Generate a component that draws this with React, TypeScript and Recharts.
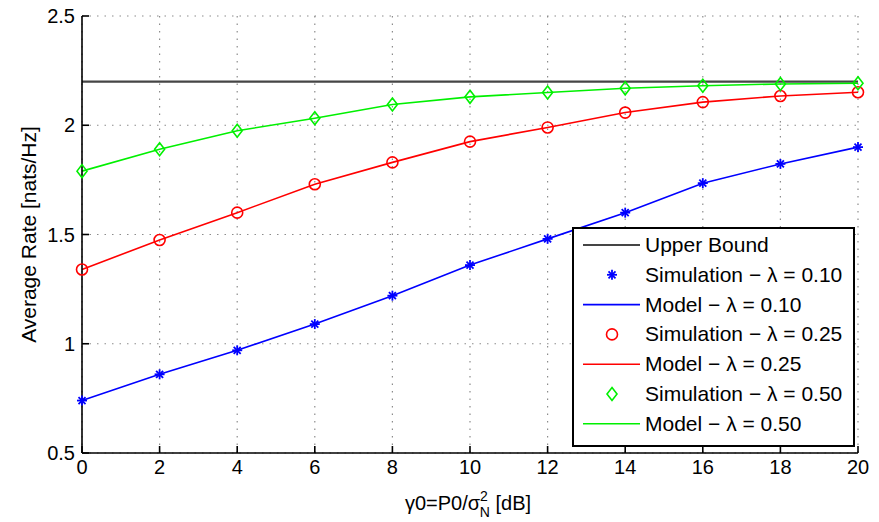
import React from 'react';
import { LineChart, Line, XAxis, YAxis, CartesianGrid, ReferenceLine, Legend } from 'recharts';

const xValues = [0, 2, 4, 6, 8, 10, 12, 14, 16, 18, 20];
const xTicks = [0, 2, 4, 6, 8, 10, 12, 14, 16, 18, 20];
const yTicks = [0.5, 1, 1.5, 2, 2.5];
const upperBound = 2.2;

const sim010 = [0.74, 0.86, 0.97, 1.09, 1.22, 1.36, 1.48, 1.6, 1.735, 1.823, 1.9];
const model010 = [0.74, 0.86, 0.97, 1.09, 1.22, 1.36, 1.48, 1.6, 1.735, 1.823, 1.9];
const sim025 = [1.34, 1.475, 1.6, 1.73, 1.83, 1.925, 1.99, 2.058, 2.106, 2.134, 2.151];
const model025 = [1.34, 1.475, 1.6, 1.73, 1.83, 1.925, 1.99, 2.058, 2.106, 2.134, 2.151];
const sim050 = [1.79, 1.89, 1.975, 2.032, 2.095, 2.13, 2.15, 2.169, 2.181, 2.189, 2.192];
const model050 = [1.79, 1.89, 1.975, 2.032, 2.095, 2.13, 2.15, 2.169, 2.181, 2.189, 2.192];

const legendLabels = [
  'Upper Bound',
  'Simulation \u2212 \u03bb = 0.10',
  'Model \u2212 \u03bb = 0.10',
  'Simulation \u2212 \u03bb = 0.25',
  'Model \u2212 \u03bb = 0.25',
  'Simulation \u2212 \u03bb = 0.50',
  'Model \u2212 \u03bb = 0.50',
];

const BLUE = '#0000ff';
const RED = '#ff0000';
const GREEN = '#00f000';
const BOUND = '#454545';
const FONT = '"Liberation Sans", Arial, Helvetica, sans-serif';

const data = xValues.map((x, i) => ({
  x,
  sim010: sim010[i],
  model010: model010[i],
  sim025: sim025[i],
  model025: model025[i],
  sim050: sim050[i],
  model050: model050[i],
}));

type MarkerKind = 'star' | 'circle' | 'diamond';

function Marker({ kind, cx, cy, color }: { kind: MarkerKind; cx: number; cy: number; color: string }) {
  if (kind === 'circle') {
    return <circle cx={cx} cy={cy} r={5.5} fill="none" stroke={color} strokeWidth={1.6} />;
  }
  if (kind === 'diamond') {
    const w = 5;
    const h = 6.5;
    return (
      <polygon
        points={`${cx},${cy - h} ${cx + w},${cy} ${cx},${cy + h} ${cx - w},${cy}`}
        fill="none"
        stroke={color}
        strokeWidth={1.6}
      />
    );
  }
  const r = 5;
  const d = r * 0.7;
  return (
    <g stroke={color} strokeWidth={1.8}>
      <line x1={cx - r} y1={cy} x2={cx + r} y2={cy} />
      <line x1={cx} y1={cy - r} x2={cx} y2={cy + r} />
      <line x1={cx - d} y1={cy - d} x2={cx + d} y2={cy + d} />
      <line x1={cx - d} y1={cy + d} x2={cx + d} y2={cy - d} />
    </g>
  );
}

const makeDot = (kind: MarkerKind, color: string) => (props: any) => {
  const { cx, cy, index } = props;
  if (cx == null || cy == null) return <g key={`e-${kind}-${index}`} />;
  return (
    <g key={`${kind}-${index}`}>
      <Marker kind={kind} cx={cx} cy={cy} color={color} />
    </g>
  );
};

const legendSpec: { label: string; type: 'line' | MarkerKind; color: string }[] = [
  { label: legendLabels[0], type: 'line', color: BOUND },
  { label: legendLabels[1], type: 'star', color: BLUE },
  { label: legendLabels[2], type: 'line', color: BLUE },
  { label: legendLabels[3], type: 'circle', color: RED },
  { label: legendLabels[4], type: 'line', color: RED },
  { label: legendLabels[5], type: 'diamond', color: GREEN },
  { label: legendLabels[6], type: 'line', color: GREEN },
];

const LegendBox = () => (
  <svg width={283} height={220} style={{ display: 'block' }}>
    <rect x={1} y={1} width={281} height={218} fill="#fff" stroke="#000" strokeWidth={2} />
    {legendSpec.map((item, i) => {
      const cy = 18 + i * 29.8;
      return (
        <g key={item.label}>
          {item.type === 'line' ? (
            <line x1={11} x2={68} y1={cy} y2={cy} stroke={item.color} strokeWidth={item.color === BOUND ? 2 : 1.6} />
          ) : (
            <Marker kind={item.type} cx={40} cy={cy} color={item.color} />
          )}
          <text x={73} y={cy + 7} fontFamily={FONT} fontSize={21} fill="#000">
            {item.label}
          </text>
        </g>
      );
    })}
  </svg>
);

const XLabel = (props: any) => {
  const vb = props.viewBox || { x: 82, y: 453, width: 776, height: 69 };
  const cx = vb.x + vb.width / 2 - 2;
  const y = vb.y + 57;
  return (
    <text x={cx} y={y} textAnchor="middle" fontFamily={FONT} fontSize={20} fill="#000">
      {'\u03b30=P0/\u03c3'}
      <tspan dy={-9} fontSize={14}>2</tspan>
      <tspan dx={-8} dy={16} fontSize={14}>N</tspan>
      <tspan dy={-7}>{' [dB]'}</tspan>
    </text>
  );
};

const YLabel = (props: any) => {
  const vb = props.viewBox || { x: 0, y: 16, width: 82, height: 437 };
  const cx = 28;
  const cy = vb.y + vb.height / 2;
  return (
    <text
      x={cx}
      y={cy}
      transform={`rotate(-90, ${cx}, ${cy})`}
      textAnchor="middle"
      dominantBaseline="central"
      fontFamily={FONT}
      fontSize={21}
      fill="#000"
    >
      Average Rate [nats/Hz]
    </text>
  );
};

const tickStyle = { fontSize: 20, fill: '#000', fontFamily: FONT };
const axisLineStyle = { stroke: '#000', strokeWidth: 1.6 };
const tickLineStyle = { stroke: '#000', strokeWidth: 1.6 };

export default function App() {
  return (
    <div style={{ position: 'absolute', left: 0, top: 0, width: 879, height: 522, background: '#fff' }}>
      <LineChart
        width={879}
        height={522}
        data={data}
        margin={{ top: 16, right: 21, bottom: 0, left: 0 }}
        style={{ fontFamily: FONT }}
      >
        <CartesianGrid stroke="#8c8c8c" strokeDasharray="1.5 6" strokeWidth={1.2} />
        <XAxis
          dataKey="x"
          type="number"
          domain={[0, 20]}
          ticks={xTicks}
          interval={0}
          height={69}
          tickSize={-7}
          tickMargin={14}
          tick={tickStyle}
          axisLine={axisLineStyle}
          tickLine={tickLineStyle}
          label={<XLabel />}
        />
        <XAxis
          xAxisId="top"
          orientation="top"
          dataKey="x"
          type="number"
          domain={[0, 20]}
          ticks={xTicks}
          interval={0}
          height={0}
          tickSize={-7}
          tickFormatter={() => ''}
          axisLine={axisLineStyle}
          tickLine={tickLineStyle}
        />
        <YAxis
          type="number"
          domain={[0.5, 2.5]}
          ticks={yTicks}
          interval={0}
          width={82}
          tickSize={-7}
          tickMargin={14}
          tick={tickStyle}
          axisLine={axisLineStyle}
          tickLine={tickLineStyle}
          label={<YLabel />}
        />
        <YAxis
          yAxisId="right"
          orientation="right"
          type="number"
          domain={[0.5, 2.5]}
          ticks={yTicks}
          interval={0}
          width={0}
          tickSize={-7}
          tickFormatter={() => ''}
          axisLine={axisLineStyle}
          tickLine={tickLineStyle}
        />
        <ReferenceLine y={upperBound} stroke={BOUND} strokeWidth={2.2} />
        <Line dataKey="model010" stroke={BLUE} strokeWidth={1.6} dot={false} isAnimationActive={false} />
        <Line dataKey="model025" stroke={RED} strokeWidth={1.6} dot={false} isAnimationActive={false} />
        <Line dataKey="model050" stroke={GREEN} strokeWidth={1.6} dot={false} isAnimationActive={false} />
        <Line dataKey="sim010" stroke="none" dot={makeDot('star', BLUE)} activeDot={false} isAnimationActive={false} />
        <Line dataKey="sim025" stroke="none" dot={makeDot('circle', RED)} activeDot={false} isAnimationActive={false} />
        <Line dataKey="sim050" stroke="none" dot={makeDot('diamond', GREEN)} activeDot={false} isAnimationActive={false} />
        <Legend
          layout="vertical"
          align="center"
          verticalAlign="middle"
          wrapperStyle={{ position: 'absolute', left: 572, top: 227, width: 283, height: 220 }}
          content={() => <LegendBox />}
        />
      </LineChart>
    </div>
  );
}
